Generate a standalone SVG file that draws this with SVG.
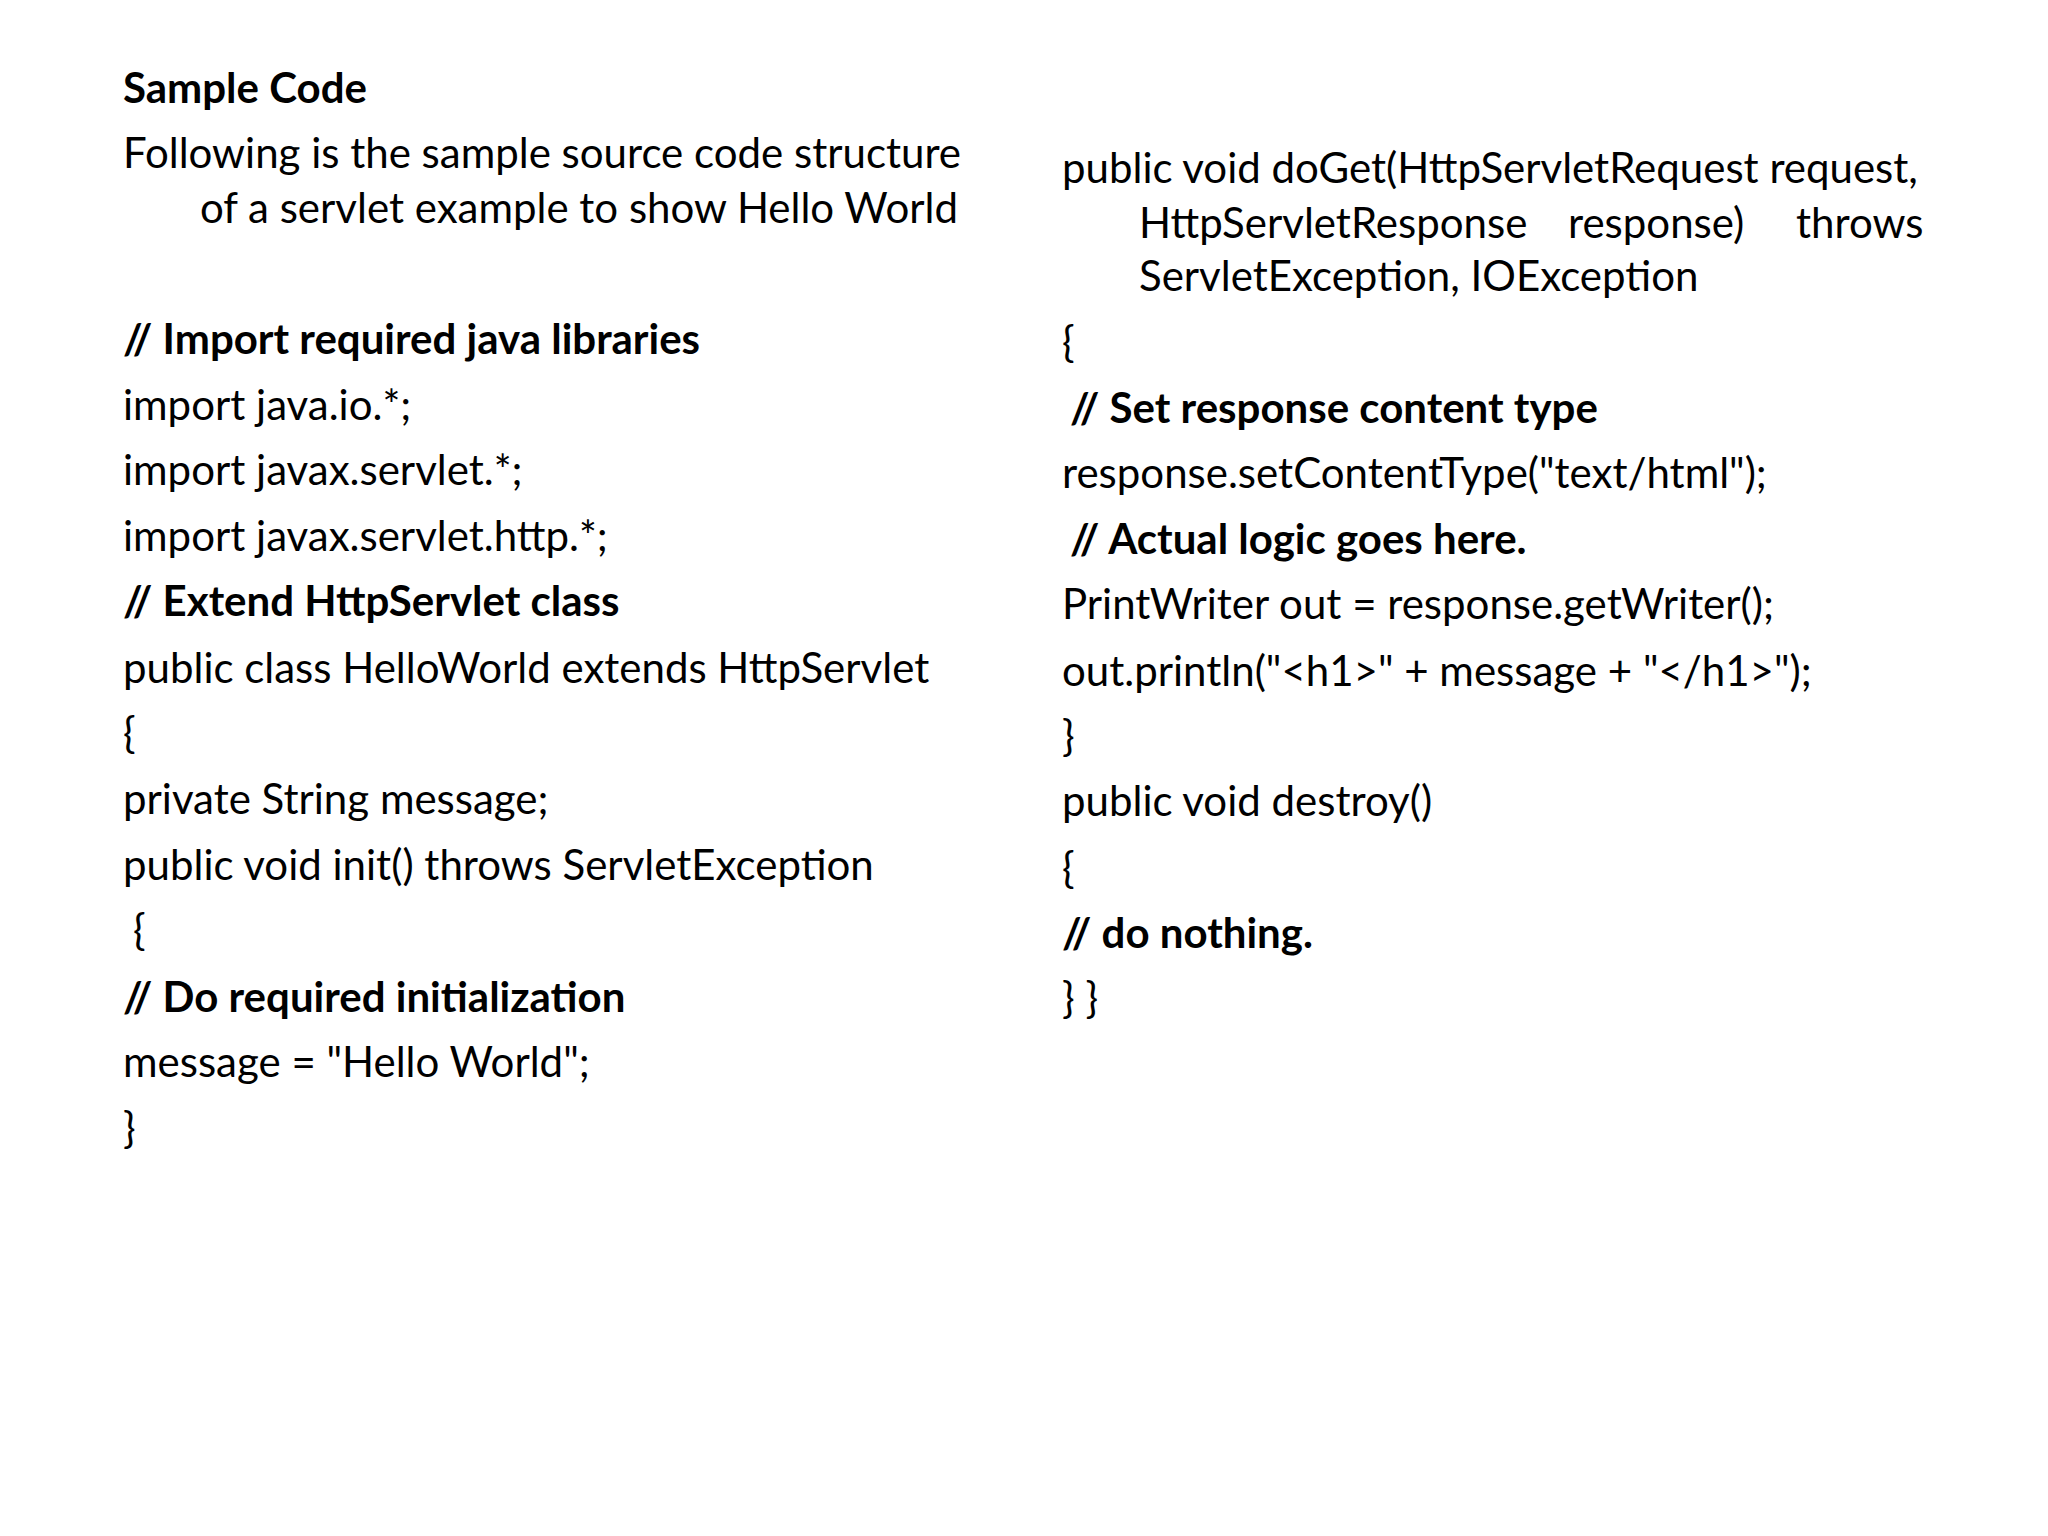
<svg xmlns="http://www.w3.org/2000/svg" width="2048" height="1536" viewBox="0 0 2048 1536">
<style>
text{font-family:Lato,"Noto Sans",sans-serif;font-size:42px;fill:#000}
.b{font-weight:bold}
</style>
<rect width="2048" height="1536" fill="#fff"/>
<g id="left">
<text class="b" x="123" y="103">Sample Code</text>
<text x="123" y="168">Following is the sample source code structure</text>
<text x="200" y="223">of a servlet example to show Hello World</text>
<text class="b" x="123" y="354">// Import required java libraries</text>
<text x="123" y="420">import java.io.*;</text>
<text x="123" y="485">import javax.servlet.*;</text>
<text x="123" y="551">import javax.servlet.http.*;</text>
<text class="b" x="123" y="616">// Extend HttpServlet class</text>
<text x="123" y="683">public class HelloWorld extends HttpServlet</text>
<text x="123" y="748">{</text>
<text x="123" y="814">private String message;</text>
<text x="123" y="880">public void init() throws ServletException</text>
<text x="133" y="945">{</text>
<text class="b" x="123" y="1012">// Do required initialization</text>
<text x="123" y="1077">message = "Hello World";</text>
<text x="123" y="1143">}</text>
</g>
<g id="right">
<text x="1062" y="183">public void doGet(HttpServletRequest request,</text>
<text x="1139" y="238">HttpServletResponse</text>
<text x="1568" y="238">response)</text>
<text x="1796" y="238">throws</text>
<text x="1139" y="291">ServletException, IOException</text>
<text x="1062" y="357">{</text>
<text class="b" x="1070" y="423">// Set response content type</text>
<text x="1062" y="488">response.setContentType("text/html");</text>
<text class="b" x="1070" y="554">// Actual logic goes here.</text>
<text x="1062" y="619">PrintWriter out = response.getWriter();</text>
<text x="1062" y="686">out.println("&lt;h1&gt;" + message + "&lt;/h1&gt;");</text>
<text x="1062" y="751">}</text>
<text x="1062" y="816">public void destroy()</text>
<text x="1062" y="883">{</text>
<text class="b" x="1062" y="948">// do nothing.</text>
<text x="1062" y="1013">} }</text>
</g>
</svg>
